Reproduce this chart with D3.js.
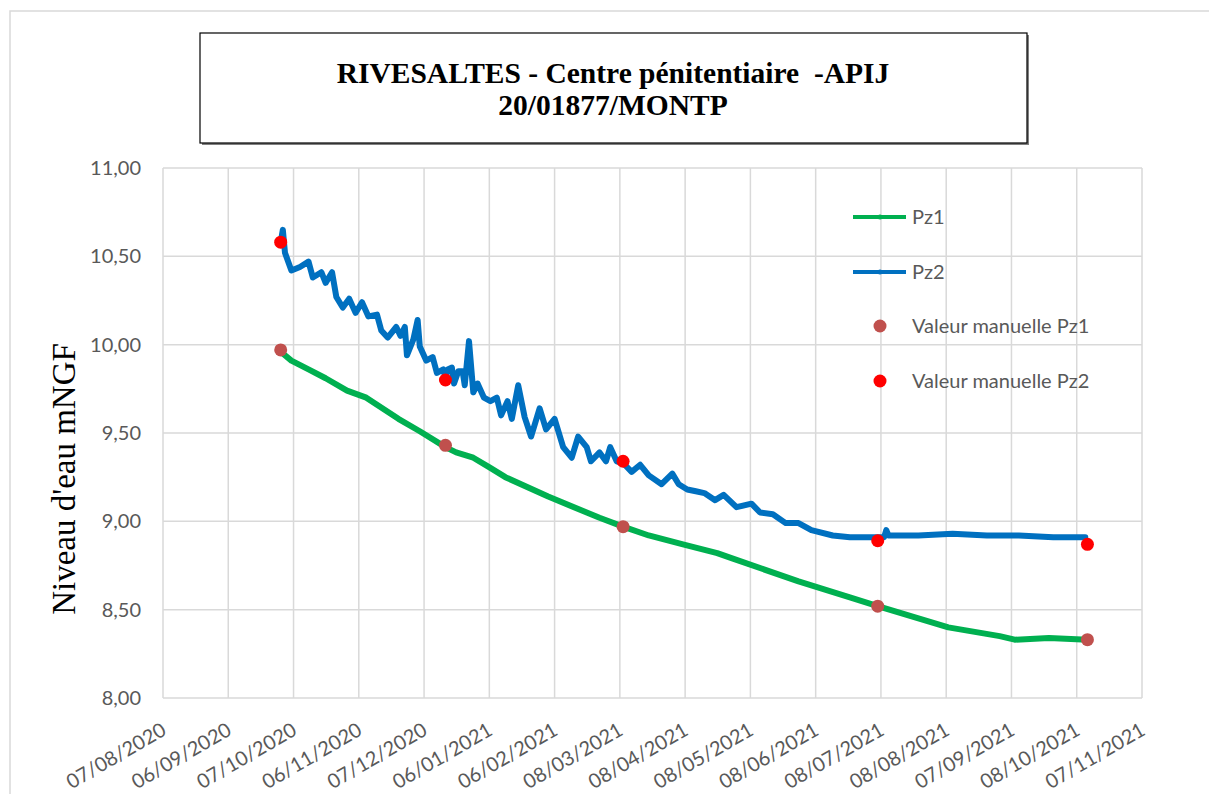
<!DOCTYPE html>
<html><head><meta charset="utf-8">
<script src="https://cdn.jsdelivr.net/npm/d3@7"></script>
<style>body{margin:0;background:#fff}</style>
</head><body>
<svg id="c" width="1209" height="794"></svg>
<script>
// ---------- DATA ----------
const titleLines = ["RIVESALTES - Centre pénitentiaire  -APIJ", "20/01877/MONTP"];
const yTitle = "Niveau d'eau mNGF";
const tickLabels = ["07/08/2020","06/09/2020","07/10/2020","06/11/2020","07/12/2020","06/01/2021","06/02/2021","08/03/2021","08/04/2021","08/05/2021","08/06/2021","08/07/2021","08/08/2021","07/09/2021","08/10/2021","07/11/2021"];
const tickStepDays = 30.5;
const yTicks = [8, 8.5, 9, 9.5, 10, 10.5, 11];
const seriesNames = ["Pz1", "Pz2", "Valeur manuelle Pz1", "Valeur manuelle Pz2"];

const pz1Dates = ["2020-10-01","2020-10-06","2020-10-14","2020-10-22","2020-11-01","2020-11-10","2020-11-25","2020-12-05","2020-12-17","2020-12-22","2020-12-30","2021-01-06","2021-01-14","2021-02-03","2021-02-27","2021-03-10","2021-03-22","2021-04-07","2021-04-23","2021-04-30","2021-05-31","2021-06-24","2021-07-07","2021-08-09","2021-09-02","2021-09-09","2021-09-25","2021-10-13"];
const pz1Values = [9.96,9.91,9.86,9.81,9.74,9.70,9.58,9.51,9.42,9.39,9.36,9.31,9.25,9.14,9.02,8.97,8.92,8.87,8.82,8.79,8.66,8.57,8.52,8.40,8.35,8.33,8.34,8.33];

const pz2Dates = ["2020-10-01","2020-10-02","2020-10-03","2020-10-06","2020-10-10","2020-10-14","2020-10-16","2020-10-20","2020-10-22","2020-10-25","2020-10-27","2020-10-30","2020-11-02","2020-11-05","2020-11-08","2020-11-11","2020-11-15","2020-11-17","2020-11-20","2020-11-24","2020-11-26","2020-11-28","2020-11-29","2020-12-02","2020-12-04","2020-12-05","2020-12-08","2020-12-11","2020-12-13","2020-12-16","2020-12-17","2020-12-18","2020-12-20","2020-12-21","2020-12-23","2020-12-25","2020-12-26","2020-12-28","2020-12-30","2021-01-01","2021-01-04","2021-01-07","2021-01-10","2021-01-12","2021-01-15","2021-01-17","2021-01-20","2021-01-23","2021-01-26","2021-01-30","2021-02-02","2021-02-06","2021-02-10","2021-02-14","2021-02-17","2021-02-21","2021-02-23","2021-02-27","2021-03-02","2021-03-04","2021-03-07","2021-03-10","2021-03-14","2021-03-18","2021-03-22","2021-03-28","2021-04-02","2021-04-05","2021-04-09","2021-04-13","2021-04-17","2021-04-22","2021-04-26","2021-05-02","2021-05-09","2021-05-13","2021-05-19","2021-05-25","2021-05-31","2021-06-06","2021-06-16","2021-06-24","2021-07-03","2021-07-10","2021-07-11","2021-07-12","2021-07-26","2021-08-11","2021-08-27","2021-09-11","2021-09-27","2021-10-12"];
const pz2Values = [10.58,10.65,10.52,10.42,10.44,10.47,10.38,10.41,10.35,10.41,10.27,10.21,10.26,10.18,10.24,10.16,10.17,10.08,10.04,10.10,10.05,10.10,9.94,10.03,10.14,9.99,9.91,9.93,9.84,9.86,9.81,9.86,9.87,9.78,9.85,9.85,9.77,10.02,9.73,9.78,9.70,9.68,9.70,9.60,9.68,9.58,9.77,9.59,9.48,9.64,9.52,9.58,9.42,9.36,9.48,9.42,9.34,9.39,9.34,9.42,9.34,9.33,9.28,9.32,9.26,9.21,9.27,9.21,9.18,9.17,9.16,9.12,9.15,9.08,9.10,9.05,9.04,8.99,8.99,8.95,8.92,8.91,8.91,8.91,8.95,8.92,8.92,8.93,8.92,8.92,8.91,8.91];

const manualDates = ["2020-10-01","2020-12-17","2021-03-10","2021-07-07","2021-10-13"];
const manualPz1 = [9.97, 9.43, 8.97, 8.52, 8.33];
const manualPz2 = [10.58, 9.80, 9.34, 8.89, 8.87];

const colors = {pz1:"#00B050", pz2:"#0070C0", man1:"#C0504D", man2:"#FF0000"};

// ---------- CHART ----------
const svg = d3.select("#c");
const parseISO = d3.timeParse("%Y-%m-%d");
const parseFR = d3.timeParse("%d/%m/%Y");
const P = {left:163, right:1142, top:168, bottom:698};

const start = parseFR(tickLabels[0]);
const stepMs = tickStepDays * 864e5;
const tickDates = tickLabels.map((_, i) => new Date(start.getTime() + i * stepMs));
const x = d3.scaleTime().domain([tickDates[0], tickDates[tickDates.length-1]]).range([P.left, P.right]);
const y = d3.scaleLinear().domain([8, 11]).range([P.bottom, P.top]);

// outer chart border
svg.append("path").attr("d", `M10,794 V11 H1209`).attr("fill","none").attr("stroke","#d9d9d9").attr("stroke-width",1.5);

// title box
svg.append("rect").attr("x",202).attr("y",35).attr("width",827).attr("height",110).attr("fill","#808080");
svg.append("rect").attr("x",200).attr("y",33).attr("width",827).attr("height",110).attr("fill","#fff").attr("stroke","#000").attr("stroke-width",1.2);
svg.append("text").attr("x",613).attr("y",83).attr("text-anchor","middle").style("white-space","pre")
  .attr("font-family","'Liberation Serif', 'Times New Roman', serif").attr("font-weight","bold").attr("font-size",29.5)
  .selectAll("tspan").data(titleLines).join("tspan").attr("x",613).attr("dy",(d,i)=> i? 32 : 0).text(d=>d);

// grid
const grid = svg.append("g").attr("stroke","#d9d9d9").attr("stroke-width",1.5);
grid.selectAll("line.v").data(tickDates).join("line").attr("class","v")
  .attr("x1",d=>x(d)).attr("x2",d=>x(d)).attr("y1",P.top).attr("y2",P.bottom);
grid.selectAll("line.h").data(yTicks).join("line").attr("class","h")
  .attr("x1",P.left).attr("x2",P.right).attr("y1",d=>y(d)).attr("y2",d=>y(d));

// y axis
const yAxis = svg.append("g").attr("transform",`translate(${P.left},0)`)
  .call(d3.axisLeft(y).tickValues(yTicks).tickSize(0).tickPadding(22).tickFormat(d=>d.toFixed(2).replace(".",",")));
yAxis.select(".domain").remove();
yAxis.selectAll("text").attr("font-family","Lato, 'Open Sans', sans-serif").attr("font-size",20).attr("fill","#595959");

// x axis
const xAxis = svg.append("g").attr("transform",`translate(0,${P.bottom})`)
  .call(d3.axisBottom(x).tickValues(tickDates).tickSize(0).tickFormat((d,i)=>tickLabels[i]));
xAxis.select(".domain").remove();
xAxis.selectAll("text").attr("font-family","Lato, 'Open Sans', sans-serif").attr("font-size",20).attr("fill","#595959")
  .attr("text-anchor","end").attr("x",0).attr("y",0).attr("dy",0)
  .attr("transform","translate(4,36) rotate(-30)");

// y title
svg.append("text").attr("transform","translate(75,479) rotate(-90)").attr("text-anchor","middle")
  .attr("font-family","'Liberation Serif', 'Times New Roman', serif").attr("font-size",33).attr("fill","#000").text(yTitle);

// series
const line = d3.line().x(d=>x(d.date)).y(d=>y(d.v));
const pz1 = pz1Dates.map((d,i)=>({date:parseISO(d), v:pz1Values[i]}));
const pz2 = pz2Dates.map((d,i)=>({date:parseISO(d), v:pz2Values[i]}));
svg.append("path").datum(pz1).attr("d",line).attr("fill","none").attr("stroke",colors.pz1).attr("stroke-width",6).attr("stroke-linejoin","round").attr("stroke-linecap","round");
svg.append("path").datum(pz2).attr("d",line).attr("fill","none").attr("stroke",colors.pz2).attr("stroke-width",6).attr("stroke-linejoin","round").attr("stroke-linecap","round");

const man1 = manualDates.map((d,i)=>({date:parseISO(d), v:manualPz1[i]}));
const man2 = manualDates.map((d,i)=>({date:parseISO(d), v:manualPz2[i]}));
svg.append("g").selectAll("circle").data(man1).join("circle").attr("cx",d=>x(d.date)).attr("cy",d=>y(d.v)).attr("r",6.5).attr("fill",colors.man1);
svg.append("g").selectAll("circle").data(man2).join("circle").attr("cx",d=>x(d.date)).attr("cy",d=>y(d.v)).attr("r",6.5).attr("fill",colors.man2);

// legend
const legY = [217, 272, 326, 381];
const legColors = [colors.pz1, colors.pz2, colors.man1, colors.man2];
const leg = svg.append("g");
seriesNames.forEach((name,i)=>{
  if (i < 2) {
    leg.append("line").attr("x1",853).attr("x2",906).attr("y1",legY[i]).attr("y2",legY[i]).attr("stroke",legColors[i]).attr("stroke-width",4);
    leg.append("circle").attr("cx",880).attr("cy",legY[i]).attr("r",2.5).attr("fill",legColors[i]);
  } else {
    leg.append("circle").attr("cx",880).attr("cy",legY[i]).attr("r",6.5).attr("fill",legColors[i]);
  }
  leg.append("text").attr("x",912).attr("y",legY[i]).attr("dy","0.35em")
    .attr("font-family","Lato, 'Open Sans', sans-serif").attr("font-size",20).attr("fill","#595959").text(name);
});
</script></body></html>
